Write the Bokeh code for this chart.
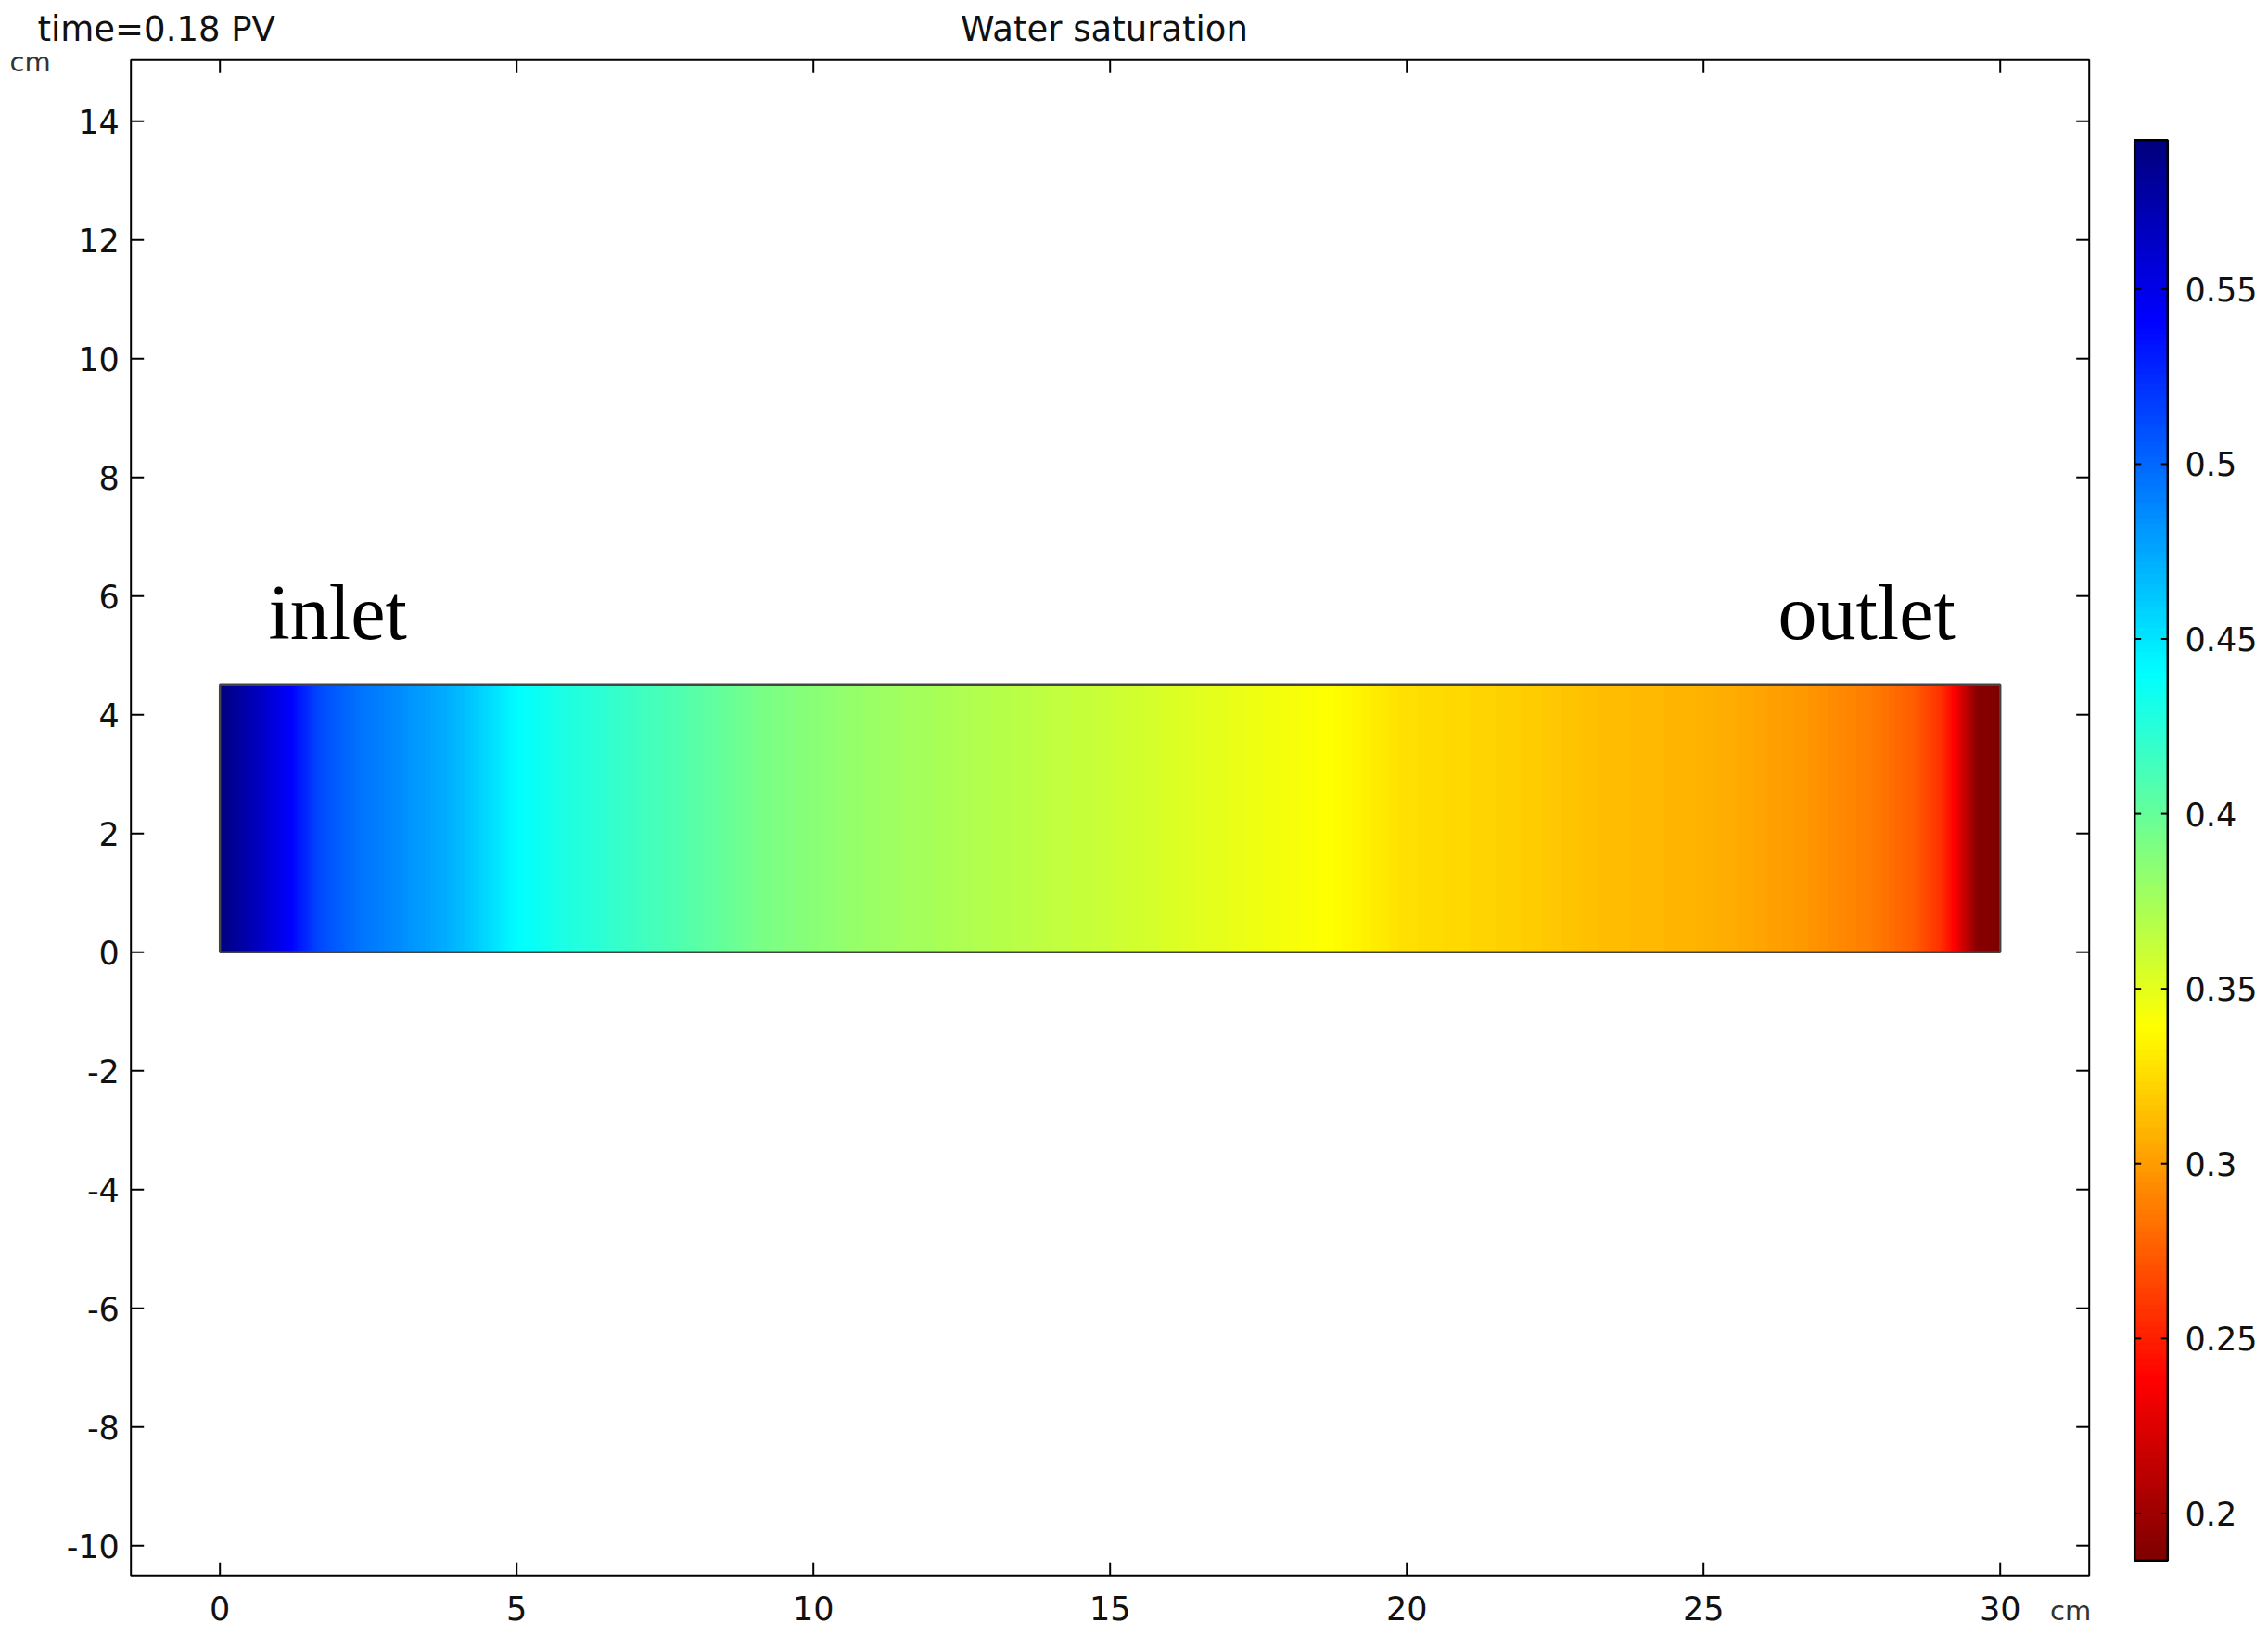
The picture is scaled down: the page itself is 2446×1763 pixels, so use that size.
import numpy as np
from bokeh.plotting import figure
from bokeh.models import LinearColorMapper, Range1d
from bokeh.core.properties import value
from bokeh.embed import file_html
from bokeh.resources import INLINE

# ---------------- data ----------------
# water saturation along the core (x in cm)
x_cm = [0.0, 0.55, 1.18, 1.65, 2.27, 3.05, 3.83, 4.35, 5.03, 5.91, 7.7, 9.16,
        10.63, 12.58, 15.1, 16.5, 18.75, 19.92, 21.88, 23.34, 24.8, 25.68,
        26.72, 27.76, 28.54, 29.0, 29.24, 29.43, 29.63, 30.0]
sw = [0.592, 0.570, 0.542, 0.513, 0.497, 0.485, 0.472, 0.459, 0.440, 0.428,
      0.409, 0.392, 0.381, 0.371, 0.359, 0.351, 0.339, 0.327, 0.320, 0.313,
      0.309, 0.305, 0.298, 0.288, 0.275, 0.257, 0.237, 0.212, 0.190, 0.187]
core_length = 30.0
core_height = 4.5
sw_min, sw_max = 0.1865, 0.5926

x_lim = (-1.5, 31.5)
y_lim = (-10.5, 15.03)
x_ticks = [0, 5, 10, 15, 20, 25, 30]
x_labels = ["0", "5", "10", "15", "20", "25", "30"]
y_ticks = [-10, -8, -6, -4, -2, 0, 2, 4, 6, 8, 10, 12, 14]
y_labels = ["-10", "-8", "-6", "-4", "-2", "0", "2", "4", "6", "8", "10", "12", "14"]
cb_ticks = [0.2, 0.25, 0.3, 0.35, 0.4, 0.45, 0.5, 0.55]
cb_labels = ["0.2", "0.25", "0.3", "0.35", "0.4", "0.45", "0.5", "0.55"]

title_text = "Water saturation"
time_text = "time=0.18 PV"
unit_text = "cm"
inlet_text = "inlet"
outlet_text = "outlet"

# ---------------- layout / styling constants ----------------
W, H = 2440, 1758          # canvas size in px
PX = 64.0                  # px per cm
X0, Y0 = 236.7, 1026.2     # canvas px of x=0 and y=0
CB_LEFT, CB_RIGHT = 2301.7, 2337.3   # colour bar px
CB_TOP, CB_BOTTOM = 150.7, 1682.3
BL = 0.365                 # baseline correction (fraction of font size)

FONT = "DejaVu Sans"
SERIF = "Liberation Serif"
TXT = "#111111"


def L(px):
    """pixel length -> cm"""
    return px / PX


def Y(py, size):
    """canvas px of a text baseline -> data y"""
    return (Y0 - py) / PX + L(BL * size)


def jet(t):
    r = min(max(min(4 * t - 1.5, -4 * t + 4.5), 0), 1)
    g = min(max(min(4 * t - 0.5, -4 * t + 3.5), 0), 1)
    b = min(max(min(4 * t + 0.5, -4 * t + 2.5), 0), 1)
    return "#%02x%02x%02x" % (int(round(r * 255)), int(round(g * 255)), int(round(b * 255)))


n_pal = 256
palette = [jet(1 - i / (n_pal - 1)) for i in range(n_pal)]  # low value -> dark red
mapper = LinearColorMapper(palette=palette, low=sw_min, high=sw_max)

# ---------------- figure (frame = whole canvas) ----------------
p = figure(width=W, height=H,
           x_range=Range1d(-X0 / PX, (W - X0) / PX),
           y_range=Range1d((Y0 - H) / PX, Y0 / PX),
           min_border=0, x_axis_location=None, y_axis_location=None,
           output_backend="svg", toolbar_location=None)
p.xgrid.grid_line_color = None
p.ygrid.grid_line_color = None
p.outline_line_color = None
p.background_fill_color = "white"
p.border_fill_color = "white"

# colour-bar value scale
k = (sw_max - sw_min) / (CB_BOTTOM - CB_TOP)
p.extra_y_ranges = {"cb": Range1d(sw_min - (H - CB_BOTTOM) * k, sw_max + CB_TOP * k)}

# ---------------- saturation field ----------------
n_cols = 1920
xs = np.linspace(0, core_length, n_cols)
row_vals = np.interp(xs, x_cm, sw)          # display resampling of the read profile
field = np.tile(row_vals, (4, 1))
p.image(image=[field], x=0, y=0, dw=core_length, dh=core_height, color_mapper=mapper)
p.quad(left=[0], right=[core_length], bottom=[0], top=[core_height],
       fill_color=None, line_color="#444444", line_width=2.5)

# ---------------- axes box, ticks, tick labels ----------------
p.quad(left=[x_lim[0]], right=[x_lim[1]], bottom=[y_lim[0]], top=[y_lim[1]],
       fill_color=None, line_color="black", line_width=2)
tl = L(14)
nx, ny = len(x_ticks), len(y_ticks)
p.segment(x0=x_ticks, y0=[y_lim[0]] * nx, x1=x_ticks, y1=[y_lim[0] + tl] * nx,
          line_color="black", line_width=2)
p.segment(x0=x_ticks, y0=[y_lim[1]] * nx, x1=x_ticks, y1=[y_lim[1] - tl] * nx,
          line_color="black", line_width=2)
p.segment(x0=[x_lim[0]] * ny, y0=y_ticks, x1=[x_lim[0] + tl] * ny, y1=y_ticks,
          line_color="black", line_width=2)
p.segment(x0=[x_lim[1]] * ny, y0=y_ticks, x1=[x_lim[1] - tl] * ny, y1=y_ticks,
          line_color="black", line_width=2)

p.text(x=x_ticks, y=[Y(1746.7, 35)] * nx, text=x_labels,
       text_font=value(FONT), text_font_size=value("35px"), text_color=TXT,
       text_align="center", text_baseline="alphabetic")
p.text(x=[x_lim[0] - L(12.4)] * ny, y=[t - L(12.75) + L(BL * 35) for t in y_ticks],
       text=y_labels, text_font=value(FONT), text_font_size=value("35px"), text_color=TXT,
       text_align="right", text_baseline="alphabetic")

# ---------------- texts ----------------
p.text(x=[(1190.5 - X0) / PX], y=[Y(45, 37)], text=[title_text],
       text_font=value(FONT), text_font_size=value("37px"), text_color=TXT,
       text_align="center", text_baseline="alphabetic")
p.text(x=[(40 - X0) / PX], y=[Y(45, 37)], text=[time_text],
       text_font=value(FONT), text_font_size=value("37px"), text_color=TXT,
       text_align="left", text_baseline="alphabetic")
p.text(x=[(10 - X0) / PX, (2210.5 - X0) / PX], y=[Y(76.7, 29), Y(1746.7, 29)],
       text=[unit_text, unit_text],
       text_font=value(FONT), text_font_size=value("29px"), text_color="#333333",
       text_align="left", text_baseline="alphabetic")
p.text(x=[(289 - X0) / PX, (1917 - X0) / PX], y=[Y(690.7, 84)] * 2,
       text=[inlet_text, outlet_text], text_font=value(SERIF),
       text_font_size=value("84px"), text_color="black", text_baseline="alphabetic")

# ---------------- colour bar ----------------
cbl, cbr = (CB_LEFT - X0) / PX, (CB_RIGHT - X0) / PX
grad = np.linspace(sw_min, sw_max, 600)
p.image(image=[np.tile(grad[:, None], (1, 4))], x=cbl, y=sw_min, dw=cbr - cbl,
        dh=sw_max - sw_min, color_mapper=mapper, y_range_name="cb")
p.quad(left=[cbl], right=[cbr], bottom=[sw_min], top=[sw_max], fill_color=None,
       line_color="black", line_width=2.5, y_range_name="cb")
nc = len(cb_ticks)
ctl = L(7)
p.segment(x0=[cbl] * nc, y0=cb_ticks, x1=[cbl + ctl] * nc, y1=cb_ticks,
          line_color="black", line_width=2, y_range_name="cb")
p.segment(x0=[cbr - ctl] * nc, y0=cb_ticks, x1=[cbr] * nc, y1=cb_ticks,
          line_color="black", line_width=2, y_range_name="cb")
p.text(x=[(2356 - X0) / PX] * nc, y=[t + (BL * 35 - 12.75) * k for t in cb_ticks],
       text=cb_labels, text_font=value(FONT), text_font_size=value("35px"), text_color=TXT,
       text_align="left", text_baseline="alphabetic", y_range_name="cb")

open("out.html", "w").write(file_html(p, INLINE))
